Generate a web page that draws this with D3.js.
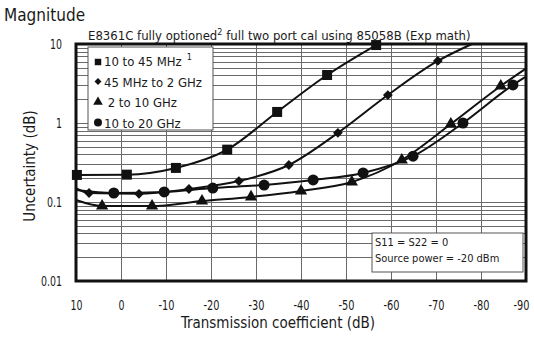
<!DOCTYPE html>
<html>
<head>
<meta charset="utf-8">
<script src="https://cdn.jsdelivr.net/npm/d3@7"></script>
<style>
  body { margin: 0; background: #fff; }
  svg text { font-family: "Liberation Sans Narrow", "DejaVu Sans Condensed", sans-serif; fill: #1a1a1a; }
</style>
</head>
<body>
<div class="chart"></div>
<script>
// Uncertainty vs transmission coefficient, four frequency bands

// Axis tick values
var xTicks = [10, 0, -10, -20, -30, -40, -50, -60, -70, -80, -90];
var yTicks = [0.01, 0.1, 1, 10];

// Series (markers)
var sqX = [9.8, -1.3, -12.2, -23.6, -34.7, -45.8, -56.7];
var sqY = [0.22, 0.222, 0.27, 0.46, 1.38, 4.05, 9.7];

var diaX = [7.1, -4, -15.1, -26.2, -37.3, -48.2, -59.3, -70.4];
var diaY = [0.13, 0.127, 0.146, 0.184, 0.294, 0.75, 2.26, 6.1];
var diaStart = [10, 0.15];
var diaEnd = [-78, 10];

var triX = [4.2, -6.9, -18, -28.9, -40, -51.3, -62.4, -73.3, -84.4];
var triY = [0.089, 0.089, 0.103, 0.116, 0.138, 0.179, 0.34, 0.97, 2.94];
var triStart = [10, 0.106];
var triEnd = [-89.8, 4.8];

var cirX = [1.6, -9.6, -20.4, -31.8, -42.7, -53.8, -64.9, -76, -87.1];
var cirY = [0.13, 0.134, 0.15, 0.164, 0.19, 0.233, 0.38, 1.0, 3.03];
var cirStart = [10, 0.142];
var cirEnd = [-89.8, 3.8];

var legendLabels = ["10 to 45 MHz", "45 MHz to 2 GHz", " 2 to 10 GHz", "10 to 20 GHz"];

var svgWidth = 534;
var svgHeight = 337;
var margin = { top: 44, right: 8, bottom: 56, left: 76 };
var width = 526 - margin.left;
var height = 281 - margin.top;

var svg = d3.select(".chart")
  .append("svg")
  .attr("width", svgWidth)
  .attr("height", svgHeight);

var chartGroup = svg.append("g")
  .attr("transform", `translate(${margin.left}, ${margin.top})`);

var xScale = d3.scaleLinear().domain([10, -90]).range([0, width]);
var yScale = d3.scaleLog().domain([0.01, 10]).range([height, 0]);

// Grid lines
var grid = chartGroup.append("g").attr("stroke", "#6a6a6a").attr("stroke-width", 1);
grid.selectAll(".vgrid")
  .data(xTicks)
  .enter()
  .append("line")
  .attr("x1", d => Math.round(xScale(d)) + 0.5).attr("x2", d => Math.round(xScale(d)) + 0.5)
  .attr("y1", 0).attr("y2", height);
grid.selectAll(".hgrid")
  .data(yScale.ticks())
  .enter()
  .append("line")
  .attr("x1", 0).attr("x2", width)
  .attr("y1", d => Math.round(yScale(d)) + 0.5).attr("y2", d => Math.round(yScale(d)) + 0.5);

// condensed width for numeric labels
function labelWidth(s) {
  s = String(s);
  var w = 0;
  for (var c of s) w += (c === "-") ? 4 : (c === ".") ? 3 : 6;
  return w;
}

// Axis labels via d3 axes
var bottomAxis = d3.axisBottom(xScale).tickValues(xTicks).tickSize(0).tickPadding(19)
  .tickFormat(d => d);
var leftAxis = d3.axisLeft(yScale).tickValues(yTicks).tickSize(0).tickPadding(14)
  .tickFormat(d => d);

var xAxis = chartGroup.append("g")
  .attr("transform", `translate(0, ${height})`)
  .call(bottomAxis);
var yAxis = chartGroup.append("g").call(leftAxis);
[xAxis, yAxis].forEach(function(ax) {
  ax.select(".domain").remove();
  ax.selectAll("text")
    .attr("font-size", "14px")
    .attr("fill", "#1a1a1a")
    .attr("textLength", function() { return labelWidth(d3.select(this).text()); })
    .attr("lengthAdjust", "spacingAndGlyphs");
});
// keep the last label inside the picture
xAxis.selectAll("text").filter(d => d === -90).attr("dx", -5);

// Curves
var line = d3.line()
  .x(d => xScale(d[0]))
  .y(d => yScale(d[1]))
  .curve(d3.curveMonotoneX);

function pts(xs, ys) { return xs.map((x, i) => [x, ys[i]]); }

var series = [
  { pts: pts(sqX, sqY), line: pts(sqX, sqY), sym: d3.symbolSquare, size: 100, rot: 0 },
  { pts: pts(diaX, diaY), line: [diaStart].concat(pts(diaX, diaY), [diaEnd]), sym: d3.symbolSquare, size: 48, rot: 45 },
  { pts: pts(triX, triY), line: [triStart].concat(pts(triX, triY), [triEnd]), sym: d3.symbolTriangle, size: 65, rot: 0 },
  { pts: pts(cirX, cirY), line: [cirStart].concat(pts(cirX, cirY), [cirEnd]), sym: d3.symbolCircle, size: 95, rot: 0 }
];

series.forEach(function(s) {
  chartGroup.append("path")
    .datum(s.line)
    .attr("d", line)
    .attr("fill", "none")
    .attr("stroke", "#111")
    .attr("stroke-width", 2);
  chartGroup.selectAll(null)
    .data(s.pts)
    .enter()
    .append("path")
    .attr("d", d3.symbol().type(s.sym).size(s.size))
    .attr("transform", d => `translate(${xScale(d[0])}, ${yScale(d[1])}) rotate(${s.rot})`)
    .attr("fill", "#111");
});

// Plot frame
chartGroup.append("rect")
  .attr("x", 0).attr("y", 0).attr("width", width).attr("height", height)
  .attr("fill", "none").attr("stroke", "#111").attr("stroke-width", 3);

// Legend
var legend = svg.append("g").attr("transform", "translate(88, 47)");
legend.append("rect")
  .attr("width", 125).attr("height", 83)
  .attr("fill", "#fff").attr("stroke", "#555").attr("stroke-width", 1);
var legSyms = [d3.symbolSquare, d3.symbolSquare, d3.symbolTriangle, d3.symbolCircle];
var legSizes = [42, 24, 40, 50];
var legRot = [0, 45, 0, 0];
legendLabels.forEach(function(lbl, i) {
  var y = 14 + i * 20.5;
  legend.append("path")
    .attr("d", d3.symbol().type(legSyms[i]).size(legSizes[i]))
    .attr("transform", `translate(10, ${y + (i === 0 ? 1 : 0)}) rotate(${legRot[i]})`)
    .attr("fill", "#111");
  var t = legend.append("text")
    .attr("x", 16).attr("y", y + 5)
    .attr("font-size", "13px")
    .attr("xml:space", "preserve");
  t.append("tspan").text(lbl);
  if (i === 0) {
    t.append("tspan").attr("dx", 5).attr("dy", -6).attr("font-size", "9px").text("1");
  }
});

// Note box
var note = svg.append("g").attr("transform", "translate(372, 233)");
note.append("rect")
  .attr("width", 151).attr("height", 39)
  .attr("fill", "#fff").attr("stroke", "#555").attr("stroke-width", 1);
note.append("text").attr("x", 3).attr("y", 13).attr("font-size", "11px").text("S11 = S22 = 0");
note.append("text").attr("x", 3).attr("y", 29).attr("font-size", "11px").text("Source power = -20 dBm");

// Titles
svg.append("text")
  .attr("x", 4).attr("y", 21)
  .attr("font-size", "17px")
  .text("Magnitude");

var sub = svg.append("text")
  .attr("x", 88).attr("y", 40)
  .attr("font-size", "13px");
sub.append("tspan").text("E8361C fully optioned");
sub.append("tspan").attr("dy", -5).attr("font-size", "9px").text("2");
sub.append("tspan").attr("dy", 5).text(" full two port cal using 85058B (Exp math)");

svg.append("text")
  .attr("transform", "translate(35, 166) rotate(-90)")
  .attr("text-anchor", "middle")
  .attr("font-size", "15px")
  .text("Uncertainty (dB)");

svg.append("text")
  .attr("x", 278).attr("y", 328)
  .attr("text-anchor", "middle")
  .attr("font-size", "15px")
  .text("Transmission coefficient (dB)");
</script>
</body>
</html>
